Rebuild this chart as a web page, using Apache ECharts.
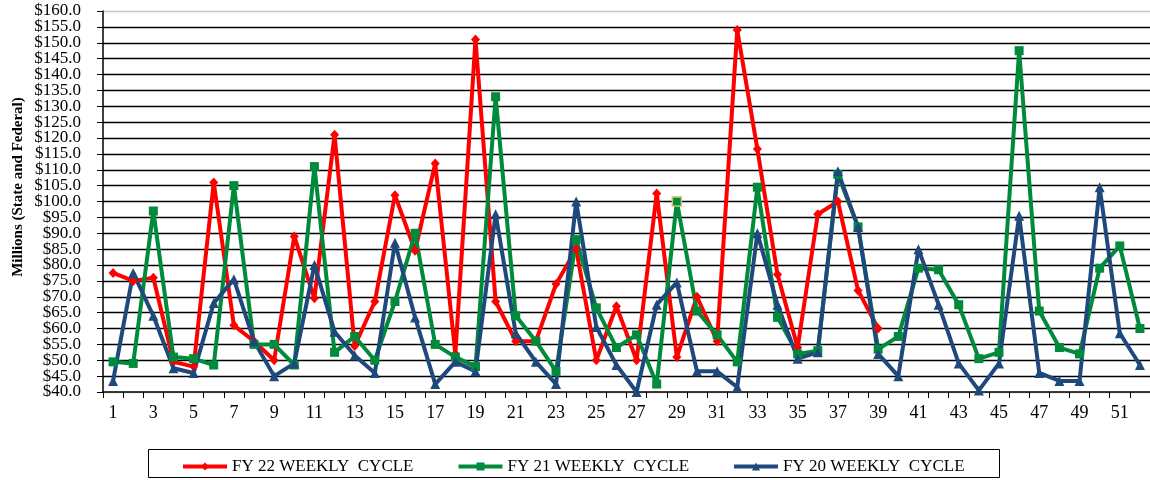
<!DOCTYPE html>
<html>
<head>
<meta charset="utf-8">
<script src="https://cdn.jsdelivr.net/npm/echarts@6/dist/echarts.min.js"></script>
<style>html,body{margin:0;padding:0;background:#fff;}#c{width:1150px;height:480px;}</style>
</head>
<body>
<div id="c"></div>
<script>
const weeks = Array.from({length: 52}, (_, i) => String(i + 1));
const fy22 = [77.5, 75, 76, 49.5, 48, 106, 61, 56, 50, 89, 69.5, 121, 54.5, 68.5, 102, 84.5, 112, 52, 151, 68.5, 56, 56, 74, 85, 50, 67, 50, 102.5, 51, 70, 56, 154, 116.5, 77, 54, 96, 100, 72, 60];
const fy21 = [49.5, 49, 97, 51, 50.5, 48.5, 105, 55, 55, 48.5, 111, 52.5, 57.5, 50, 68.5, 90, 55, 51, 48, 133, 64, 56, 46.5, 88, 66.5, 54, 58, 42.5, 100, 65.5, 58, 49.5, 104.5, 63.5, 52, 53, 108.5, 92, 53.5, 57.5, 79, 78.5, 67.5, 50.5, 52.5, 147.5, 65.5, 54, 52, 79, 86, 60];
const fy20 = [43.5, 77.5, 64, 47.5, 46, 68, 75.5, 56, 45, 49, 80, 59, 51.5, 46, 87, 63.5, 42.5, 49.5, 46.5, 96, 58.5, 49.5, 42.5, 100, 60.5, 48.5, 40, 67.5, 74.5, 46.5, 46.5, 41.5, 90, 67.5, 50.5, 52.5, 109.5, 92, 52, 45, 85, 67.5, 49, 40.5, 49, 95.5, 46, 43.5, 43.5, 104.5, 58.5, 48.5];
const seriesNames = ['FY 22 WEEKLY  CYCLE', 'FY 21 WEEKLY  CYCLE', 'FY 20 WEEKLY  CYCLE'];
const yMin = 40, yMax = 160, yStep = 5;

const serif = '"Liberation Serif", "Times New Roman", serif';
const gridColors = [];
for (let i = 0; i < 25; i++) gridColors.push((i === 0 || i === 24) ? '#c8c8c8' : '#000');

const fy21Data = fy21.map((v, i) => i === 28 ? {value: v, itemStyle: {borderColor: '#c8c46e', borderWidth: 1.5}} : v);
const fmt = v => '$' + v.toFixed(1);
const labelBase = {color: '#000', fontFamily: serif, fontSize: 17, margin: 22};

const chart = echarts.init(document.getElementById('c'), null, {renderer: 'canvas'});
chart.setOption({
  animation: false,
  backgroundColor: '#fff',
  grid: {left: 103, top: 11, width: 1049, height: 381, containLabel: false},
  xAxis: {
    type: 'category',
    data: weeks,
    boundaryGap: true,
    axisLine: {lineStyle: {color: '#000', width: 1.5}},
    axisTick: {show: true, interval: 0, length: 6, lineStyle: {color: '#000', width: 1}},
    axisLabel: {interval: 1, color: '#000', fontFamily: serif, fontSize: 18, margin: 12},
    splitLine: {show: false}
  },
  yAxis: [{
    type: 'value', position: 'left',
    min: yMin, max: yMax, interval: yStep,
    axisLine: {show: true, lineStyle: {color: '#000', width: 1.5}},
    axisTick: {show: true, inside: false, length: 6, lineStyle: {color: '#000'}},
    axisLabel: Object.assign({showMinLabel: false, showMaxLabel: false, formatter: fmt}, labelBase),
    splitLine: {show: true, lineStyle: {color: gridColors, width: 1.4}}
  }, {
    type: 'value', position: 'left', offset: 0,
    min: yMin, max: yMax, interval: yStep,
    axisLine: {show: false},
    axisTick: {show: true, inside: false, length: 6, lineStyle: {color: '#000'}},
    axisLabel: Object.assign({showMinLabel: true, showMaxLabel: true,
      formatter: v => (v === yMin || v === yMax) ? fmt(v) : ''}, labelBase),
    splitLine: {show: false}
  }],
  legend: {
    left: 181, top: 458, padding: 0,
    itemWidth: 44, itemHeight: 10, itemGap: 43,
    lineStyle: {width: 4},
    textStyle: {color: '#000', fontFamily: serif, fontSize: 17},
    data: seriesNames
  },
  graphic: [
    {type: 'rect', shape: {x: 148.5, y: 449.5, width: 851, height: 28}, style: {fill: 'none', stroke: '#000', lineWidth: 1}, silent: true},
    {type: 'text', x: 18, y: 187, rotation: Math.PI / 2,
      style: {text: 'Millions (State and Federal)', font: 'bold 15px ' + serif, fill: '#000',
        align: 'center', verticalAlign: 'middle', textAlign: 'center', textVerticalAlign: 'middle'}}
  ],
  series: [
    {name: seriesNames[0], type: 'line', data: fy22, symbol: 'diamond', symbolSize: [9, 10],
      lineStyle: {color: '#ff0000', width: 4}, itemStyle: {color: '#ff0000'}},
    {name: seriesNames[1], type: 'line', data: fy21Data, symbol: 'rect', symbolSize: 9,
      lineStyle: {color: '#008a3c', width: 4}, itemStyle: {color: '#008a3c'}},
    {name: seriesNames[2], type: 'line', data: fy20, symbol: 'triangle', symbolSize: 10,
      lineStyle: {color: '#1f497d', width: 4}, itemStyle: {color: '#1f497d'}}
  ]
});
</script>
</body>
</html>
